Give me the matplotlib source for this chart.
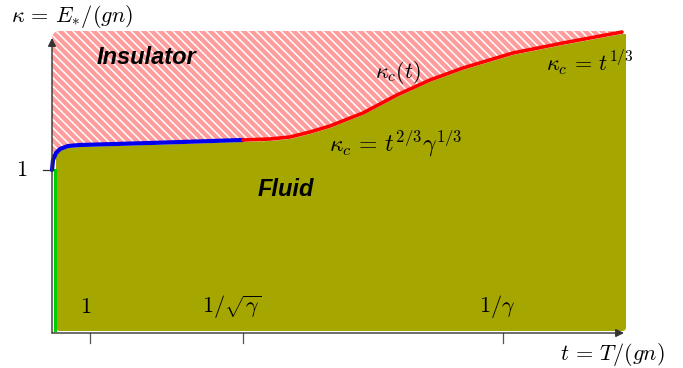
import numpy as np
import matplotlib
matplotlib.use("Agg")
import matplotlib.pyplot as plt
from matplotlib.patches import FancyBboxPatch

plt.rcParams['mathtext.fontset'] = 'cm'
plt.rcParams['hatch.linewidth'] = 1.1

# phase boundary kappa_c(t), schematic units (t to the right, kappa upwards)
blue_t = [0, 1, 4, 8, 16, 28, 98, 191]
blue_k = [163, 173, 180, 184, 187, 188, 190, 193]
red_t = [191, 218, 238, 258, 278, 311, 345, 378, 411, 461, 511, 570]
red_k = [193, 194, 196, 201, 207, 220, 238, 253, 265, 280, 290, 301]

# classical region (kappa < 1 at low t)
green_t = [3, 3]
green_k = [3, 163]

tick_t = [38, 191, 451]
tick_labels = [r'$1$', r'$1/\sqrt{\gamma}$', r'$1/\gamma$']
tick_label_t = [34, 180, 445]
ytick_k = 163

t_max = 574
k_top = 302

fig = plt.figure(figsize=(6.83, 3.68), dpi=100)
ax = fig.add_axes([0, 0, 1, 1])
ax.set_xlim(-52, 631)
ax.set_ylim(-35, 333)
ax.axis('off')

curve_t = np.array(blue_t + red_t[1:] + [t_max])
curve_k = np.array(blue_k + red_k[1:] + [red_k[-1]])

# insulator: hatched region above the boundary
clip = FancyBboxPatch((0, 0), t_max, k_top, boxstyle="round,pad=0,rounding_size=8",
                      transform=ax.transData, facecolor='none', edgecolor='none')
ax.add_patch(clip)
ins = ax.fill_between(curve_t, curve_k, k_top, facecolor='#ff9c9c', edgecolor='white',
                      hatch='\\\\\\\\', linewidth=0, zorder=1)
ins.set_clip_path(clip)

# fluid region below the boundary
mask = curve_t >= 4
fluid_box = FancyBboxPatch((4, 2), t_max - 4, 310, boxstyle="round,pad=0,rounding_size=4",
                           transform=ax.transData, facecolor='none', edgecolor='none')
ax.add_patch(fluid_box)
fl = ax.fill_between(curve_t[mask], 2, curve_k[mask] - 2, facecolor='#a6a600',
                     linewidth=0, zorder=2)
fl.set_clip_path(fluid_box)

ax.plot(green_t, green_k, color='#00cc00', lw=2.2, zorder=4)
ax.plot(blue_t, blue_k, color='#0000ee', lw=3, solid_capstyle='round', zorder=5)
ax.plot(red_t, red_k, color='#ff0000', lw=2.6, solid_capstyle='round', zorder=5)

# axes with arrows
arrow = dict(arrowstyle='-|>', color='#333333', lw=1.0, mutation_scale=12, shrinkA=0, shrinkB=0)
ax.annotate('', xy=(572, 0), xytext=(0, 0), arrowprops=arrow, zorder=6)
ax.annotate('', xy=(0, 295), xytext=(0, 0), arrowprops=arrow, zorder=6)

for t in tick_t:
    ax.plot([t, t], [0, -10], color='#555555', lw=0.9)
for t, lab in zip(tick_label_t, tick_labels):
    ax.text(t, 26, lab, fontsize=16, ha='center', va='center', zorder=7)
ax.plot([-9, 0], [ytick_k, ytick_k], color='#333333', lw=0.9)
ax.text(-30, ytick_k, r'$1$', fontsize=16, ha='center', va='center')

ax.text(20, 317, r'$\kappa\, =\, E_{*}/(gn)$', fontsize=16, ha='center', va='center')
ax.text(560, -22, r'$t\, =\, T/(gn)$', fontsize=16, ha='center', va='center')

label_font = dict(family=['Liberation Sans', 'DejaVu Sans'], fontsize=17,
                  fontweight='bold', style='italic', ha='center', va='center', zorder=7)
ax.text(94, 275, 'Insulator', **label_font)
ax.text(234, 144, 'Fluid', **label_font)
ax.text(346, 261, r'$\kappa_c(t)$', fontsize=16, ha='center', va='center', zorder=7)
ax.text(344, 190, r'$\kappa_c\, =\, t^{2/3}\gamma^{1/3}$', fontsize=17, ha='center', va='center', zorder=7)
ax.text(538, 270, r'$\kappa_c\, =\, t^{1/3}$', fontsize=16, ha='center', va='center', zorder=7)

fig.savefig('out.png', dpi=100)
